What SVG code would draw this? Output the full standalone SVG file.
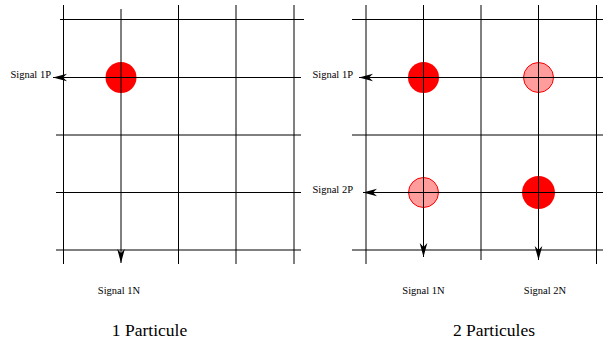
<svg xmlns="http://www.w3.org/2000/svg" width="603" height="343" viewBox="0 0 603 343">
<style>
.g{stroke:#000;stroke-width:1;fill:none}
.a{stroke:#000;stroke-width:1;fill:none;marker-end:url(#arr)}
.dark{fill:#ff0000;stroke:none}
.light{fill:#ff9c9c;stroke:#ff0000;stroke-width:1}
.s{font-family:"Liberation Serif","Times New Roman",serif;font-size:10.5px;fill:#000}
.t{font-family:"Liberation Serif","Times New Roman",serif;font-size:17.5px;fill:#000}
</style>
<defs>
<marker id="arr" markerUnits="userSpaceOnUse" markerWidth="16" markerHeight="10" viewBox="-15 -5 16 10" refX="0" refY="0" orient="auto">
<path d="M0,0 L-14,-3.8 L-10,0 L-14,3.8 Z" fill="#000"/>
</marker>
</defs>
<rect width="603" height="343" fill="#fff"/>

<g id="particles-left">
<circle class="dark" cx="121" cy="77.5" r="15.5"/>
</g>
<g id="particles-right">
<circle class="dark" cx="423.5" cy="77.5" r="15.5"/>
<circle class="light" cx="538.5" cy="77.5" r="15"/>
<circle class="light" cx="423.5" cy="192.5" r="15"/>
<circle class="dark" cx="538.5" cy="192.5" r="16.5"/>
</g>

<g id="grid-left">
<line class="g" x1="63.5" y1="5" x2="63.5" y2="264"/>
<line class="g" x1="178.5" y1="5" x2="178.5" y2="264"/>
<line class="g" x1="236" y1="5" x2="236" y2="264"/>
<line class="g" x1="294" y1="5" x2="294" y2="264"/>
<line class="g" x1="60" y1="19.5" x2="304" y2="19.5"/>
<line class="g" x1="56" y1="135" x2="301" y2="135"/>
<line class="g" x1="56" y1="192.5" x2="301" y2="192.5"/>
<line class="g" x1="56" y1="250" x2="301" y2="250"/>
</g>
<g id="grid-right">
<line class="g" x1="366" y1="5" x2="366" y2="264"/>
<line class="g" x1="481" y1="5" x2="481" y2="260"/>
<line class="g" x1="596.5" y1="5" x2="596.5" y2="264"/>
<line class="g" x1="352" y1="19.5" x2="603" y2="19.5"/>
<line class="g" x1="352" y1="135" x2="603" y2="135"/>
<line class="g" x1="352" y1="250" x2="603" y2="250"/>
</g>

<g id="connectors">
<line class="a" x1="121" y1="9" x2="121" y2="263"/>
<line class="a" x1="301" y1="77.5" x2="53" y2="77.5"/>
<line class="a" x1="423.5" y1="5" x2="423.5" y2="257"/>
<line class="a" x1="538.5" y1="5" x2="538.5" y2="260"/>
<line class="a" x1="603" y1="77.5" x2="359" y2="77.5"/>
<line class="a" x1="603" y1="192.5" x2="363" y2="192.5"/>
</g>

<g id="labels">
<text class="s" x="51" y="78" text-anchor="end">Signal 1P</text>
<text class="s" x="119" y="294" text-anchor="middle">Signal 1N</text>
<text class="s" x="353" y="78" text-anchor="end">Signal 1P</text>
<text class="s" x="353" y="193" text-anchor="end">Signal 2P</text>
<text class="s" x="423.5" y="294" text-anchor="middle">Signal 1N</text>
<text class="s" x="545" y="294" text-anchor="middle">Signal 2N</text>
<text class="t" x="149.5" y="336" text-anchor="middle">1 Particule</text>
<text class="t" x="494" y="336" text-anchor="middle">2 Particules</text>
</g>
</svg>
